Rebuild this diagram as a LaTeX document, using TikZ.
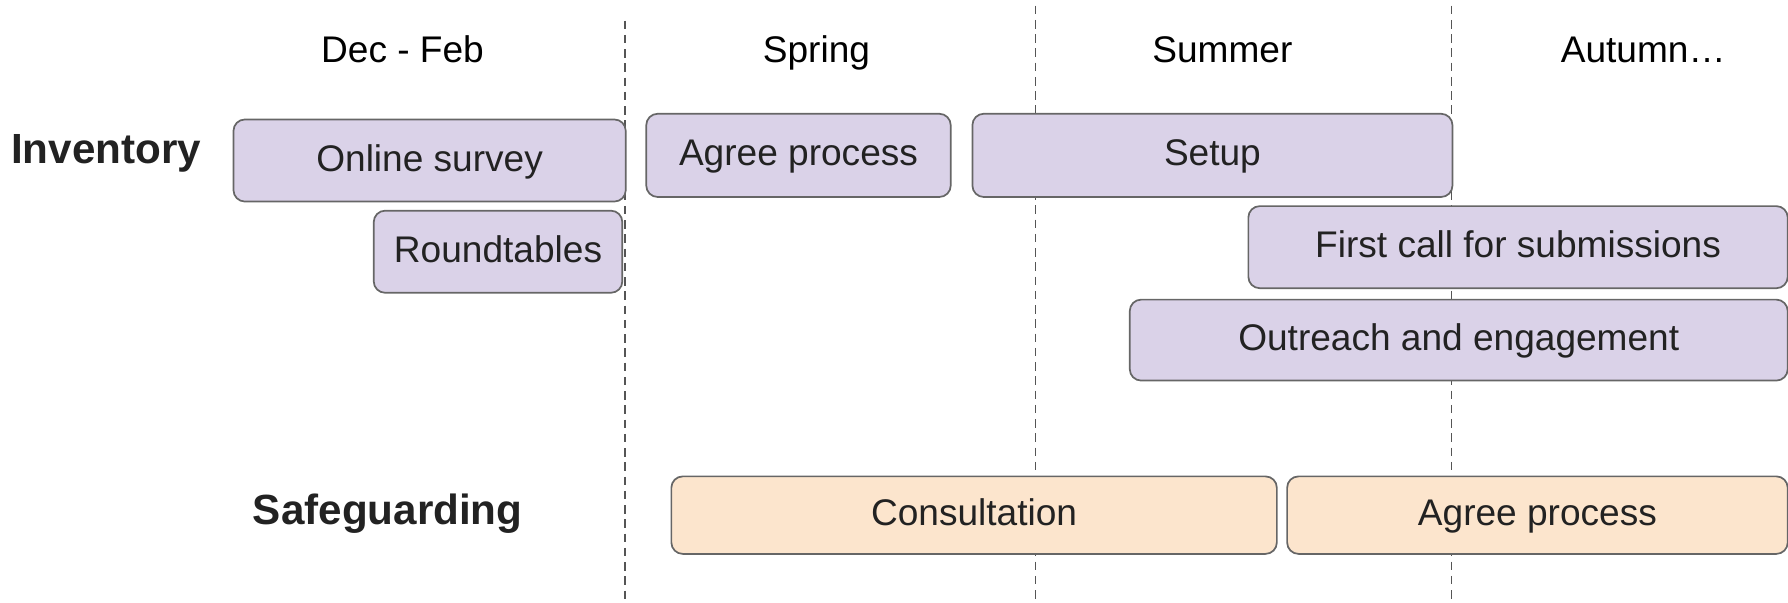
\documentclass[tikz,border=0pt]{standalone}
\usepackage{fontspec}
\setmainfont{Liberation Sans}
\definecolor{invfill}{HTML}{DAD2E8}
\definecolor{safefill}{HTML}{FCE5CD}
\definecolor{edge}{HTML}{666666}
\definecolor{sep}{HTML}{555555}
\definecolor{ink}{HTML}{222222}
\begin{document}
\begin{tikzpicture}[x=0.4pt,y=-0.4pt,
  fixed/.style={text height=0.8em, text depth=0.06em},
  box/.style={draw=edge, line width=0.6pt, rounded corners=4pt, inner sep=0pt, anchor=north west, font=\fontsize{13}{15}\selectfont, fixed, text=ink},
  inv/.style={box, fill=invfill},
  safe/.style={box, fill=safefill},
  hdr/.style={font=\fontsize{13}{15}\selectfont, fixed, inner sep=0pt},
  lane/.style={font=\bfseries\fontsize{14.8}{18}\selectfont, fixed, inner sep=0pt, text=ink},
  sepline/.style={draw=sep, line width=0.6pt, dash pattern=on 3pt off 2pt}]
\useasboundingbox (0,0) rectangle (1568,528);
% separators
\coordinate (s1t) at (548,18); \coordinate (s1b) at (548,528);
\coordinate (s2t) at (908,5); \coordinate (s2b) at (908,528);
\coordinate (s3t) at (1273,5); \coordinate (s3b) at (1273,528);
\draw[sepline] (s1t) -- (s1b);
\draw[sepline] (s2t) -- (s2b);
\draw[sepline] (s3t) -- (s3b);
% headers
\node[hdr] (h1) at (353,45.3) {Dec - Feb};
\node[hdr] (h2) at (716,45.3) {Spring};
\node[hdr] (h3) at (1072,45.3) {Summer};
\node[hdr] (h4) at (1441,45.3) {Autumn…};
% lanes
\node[lane] (inv) at (93,134.5) {Inventory};
\node[lane] (saf) at (340,451) {Safeguarding};
% boxes
\newcommand\tb[7]{\node[#1, minimum width={(#5-#3)*0.4pt}, minimum height={(#6-#4)*0.4pt}] (#2) at (#3,#4) {#7};}
\tb{inv}{online}{204}{104}{548}{176}{Online survey}
\tb{inv}{round}{327}{184}{545}{256}{Roundtables}
\tb{inv}{agree1}{566}{99}{833}{172}{Agree process}
\tb{inv}{setup}{852}{99}{1273}{172}{Setup}
\tb{inv}{first}{1094}{180}{1567}{252}{First call for submissions}
\tb{inv}{outreach}{990}{262}{1567}{333}{Outreach and engagement}
\tb{safe}{consult}{588}{417}{1119}{485}{Consultation}
\tb{safe}{agree2}{1128}{417}{1567}{485}{Agree process}
\end{tikzpicture}
\end{document}
